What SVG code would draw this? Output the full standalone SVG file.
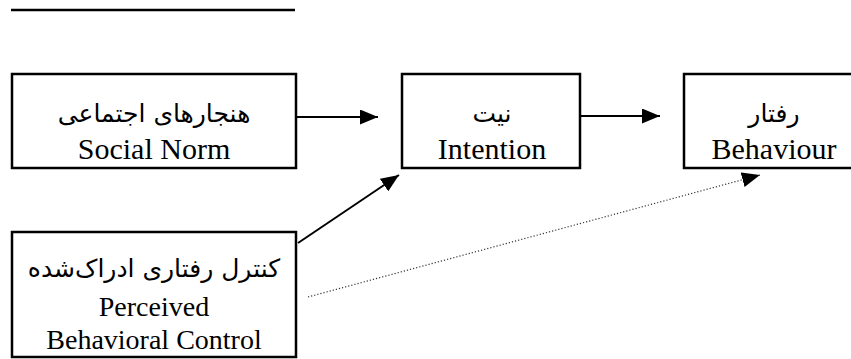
<svg xmlns="http://www.w3.org/2000/svg" width="851" height="359" viewBox="0 0 851 359">
<defs>
<style>
.box{fill:#fff;stroke:#000;stroke-width:2.5}
.en{font-family:"Liberation Serif","Times New Roman",serif;font-size:30px;fill:#000;text-anchor:middle}
.en2{font-family:"Liberation Serif","Times New Roman",serif;font-size:28px;fill:#000;text-anchor:middle}
.fa{font-family:"DejaVu Sans","Noto Sans",sans-serif;font-size:25px;fill:#000;text-anchor:middle;direction:rtl}
.conn{stroke:#000;stroke-width:2;fill:none}
.dot{stroke:#333;stroke-width:1.2;fill:none;stroke-dasharray:1.2 2}
</style>
<marker id="ah2" viewBox="0 0 10 10" refX="10" refY="5" markerWidth="18" markerHeight="15" markerUnits="userSpaceOnUse" orient="auto" preserveAspectRatio="none">
<path d="M0,0 L10,5 L0,10 Z" fill="#000"/>
</marker>
</defs>
<rect width="851" height="359" fill="#fff"/>
<line x1="11" y1="10" x2="295" y2="10" stroke="#000" stroke-width="2.5"/>
<g id="connectors">
<line class="conn" x1="297" y1="117" x2="378" y2="117" marker-end="url(#ah2)"/>
<line class="conn" x1="581" y1="116" x2="660" y2="116" marker-end="url(#ah2)"/>
<line class="conn" x1="298" y1="243" x2="399" y2="175" marker-end="url(#ah2)"/>
<line class="dot" x1="308" y1="297" x2="760" y2="175" marker-end="url(#ah2)"/>
</g>
<g id="social-norm">
<rect class="box" x="12" y="74" width="284" height="94"/>
<text class="fa" x="154" y="122">هنجارهای اجتماعی</text>
<text class="en" x="154" y="159">Social Norm</text>
</g>
<g id="intention">
<rect class="box" x="402" y="74" width="178" height="94"/>
<text class="fa" x="492" y="122">نیت</text>
<text class="en" x="492" y="159">Intention</text>
</g>
<g id="behaviour">
<rect class="box" x="684" y="74" width="190" height="94"/>
<text class="fa" x="774" y="122">رفتار</text>
<text class="en" x="774" y="159">Behaviour</text>
</g>
<g id="pbc">
<rect class="box" x="12" y="232" width="284" height="125"/>
<text class="fa" x="154" y="277">کنترل رفتاری ادراک‌شده</text>
<text class="en2" x="154" y="316">Perceived</text>
<text class="en2" x="154" y="349">Behavioral Control</text>
</g>
</svg>
